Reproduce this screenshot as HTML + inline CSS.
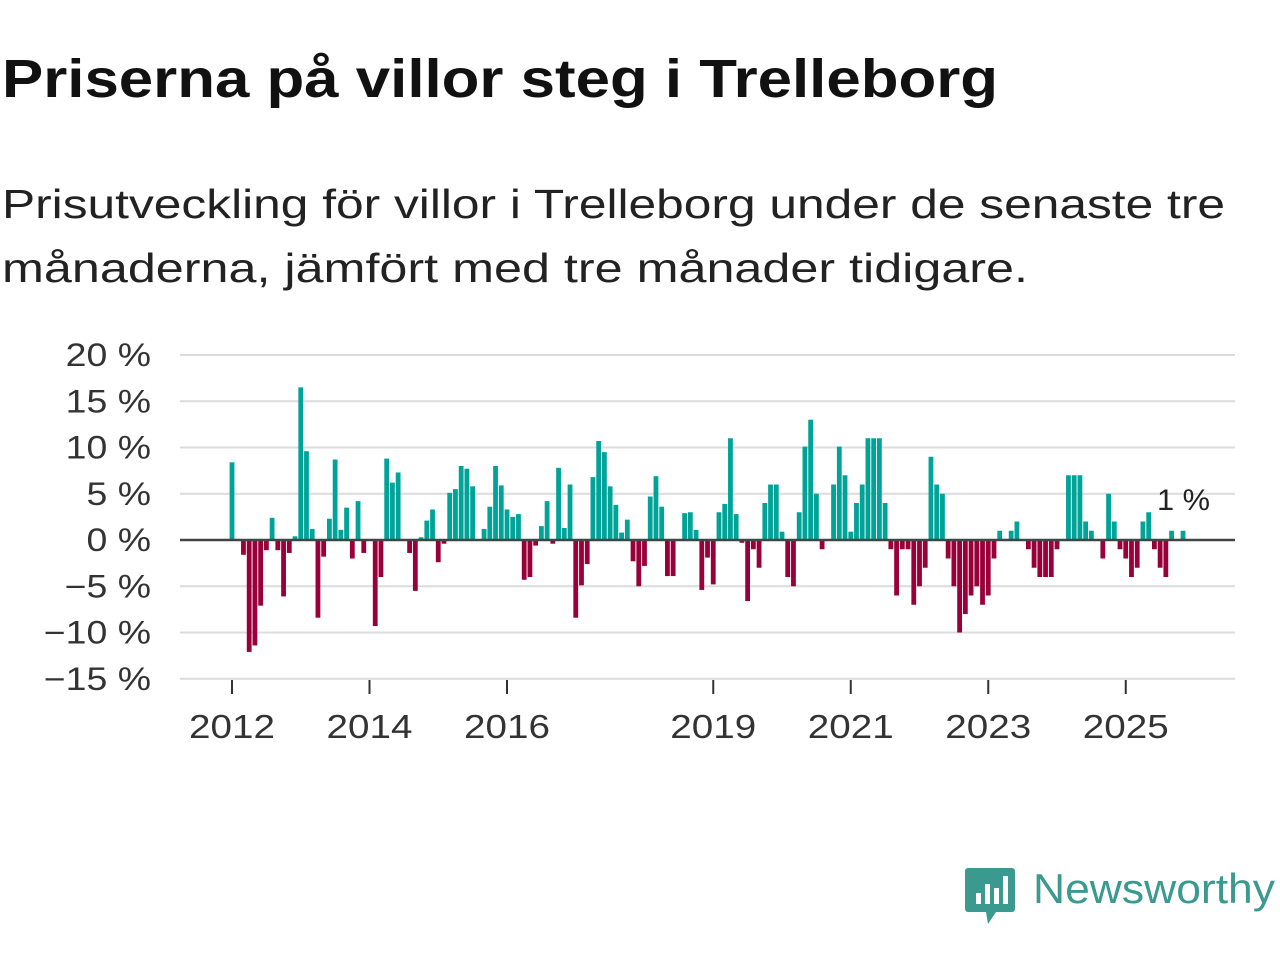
<!DOCTYPE html>
<html><head><meta charset="utf-8"><style>
html,body{margin:0;padding:0;background:#fff;}
svg{display:block;font-family:"Liberation Sans","DejaVu Sans",sans-serif;}
</style></head><body>
<svg id="chart" width="1280" height="960" viewBox="0 0 1280 960">
<text x="2" y="97" font-size="54" font-weight="bold" fill="#111" textLength="996" lengthAdjust="spacingAndGlyphs">Priserna på villor steg i Trelleborg</text>
<text x="2" y="218" font-size="41" fill="#222" textLength="1223" lengthAdjust="spacingAndGlyphs">Prisutveckling för villor i Trelleborg under de senaste tre</text>
<text x="2" y="282" font-size="41" fill="#222" textLength="1026" lengthAdjust="spacingAndGlyphs">månaderna, jämfört med tre månader tidigare.</text>
<g id="grid"></g>
<g id="yticks"></g>
<g id="xticks"></g>
<g id="bars"></g>
<line x1="180" x2="1235" y1="540" y2="540" stroke="#444" stroke-width="2.5"/>
<text x="1157" y="510" font-size="30" fill="#222" textLength="53" lengthAdjust="spacingAndGlyphs">1 %</text>
<g>
<path d="M968 868 h44 a3 3 0 0 1 3 3 v38 a3 3 0 0 1 -3 3 h-16 l-8 12 l-2 -12 h-18 a3 3 0 0 1 -3 -3 v-38 a3 3 0 0 1 3 -3z" fill="#3a9a8f"/>
<rect x="976" y="893" width="5" height="11" fill="#fff"/>
<rect x="985" y="884" width="5" height="20" fill="#fff"/>
<rect x="994" y="888" width="5" height="16" fill="#fff"/>
<rect x="1003" y="876" width="5" height="28" fill="#fff"/>
<text x="1033" y="903" font-size="42" fill="#3a9a8f" textLength="242" lengthAdjust="spacingAndGlyphs">Newsworthy</text>
</g>
</svg>
<script>
const yTicks = [20, 15, 10, 5, 0, -5, -10, -15];
const yTickLabels = ["20 %", "15 %", "10 %", "5 %", "0 %", "\u22125 %", "\u221210 %", "\u221215 %"];
const xTickYears = [2012, 2014, 2016, 2019, 2021, 2023, 2025];
const startYear = 2012;
const values = [
8.4,0,-1.6,-12.1,-11.4,-7.1,-1.1,2.4,-1.1,-6.1,-1.4,0.4,
16.5,9.6,1.2,-8.4,-1.8,2.3,8.7,1.1,3.5,-2.0,4.2,-1.4,
0,-9.3,-4.0,8.8,6.2,7.3,0,-1.4,-5.5,0.3,2.1,3.3,
-2.4,-0.4,5.1,5.5,8.0,7.7,5.8,0,1.2,3.6,8.0,5.9,
3.3,2.5,2.8,-4.3,-4.0,-0.6,1.5,4.2,-0.4,7.8,1.3,6.0,
-8.4,-4.9,-2.6,6.8,10.7,9.5,5.8,3.8,0.8,2.2,-2.3,-5.0,
-2.8,4.7,6.9,3.6,-3.9,-3.9,0,2.9,3.0,1.1,-5.4,-1.9,
-4.8,3.0,3.9,11.0,2.8,-0.3,-6.6,-1.0,-3.0,4.0,6.0,6.0,
0.9,-4.0,-5.0,3.0,10.1,13.0,5.0,-1.0,0,6.0,10.1,7.0,
0.9,4.0,6.0,11,11,11,4.0,-1,-6,-1,-1,-7,
-5,-3,9,6,5,-2,-5,-10,-8,-6,-5,-7,
-6,-2,1,0,1,2,0,-1,-3,-4,-4,-4,
-1,0,7,7,7,2,1,0,-2,5,2,-1,
-2,-4,-3,2,3,-1,-3,-4,1,0,1
];
const NS = "http://www.w3.org/2000/svg";
function yScale(v){ return 540 - v * 9.25; }
function xScale(monthIndex){ return 232 + monthIndex * (68.75/12); }
function widen(t, f){
  try { const w = t.getComputedTextLength(); t.setAttribute('textLength', (w * f).toFixed(1)); t.setAttribute('lengthAdjust', 'spacingAndGlyphs'); } catch(e) {}
}
const grid = document.getElementById('grid');
const yt = document.getElementById('yticks');
yTicks.forEach((t, i) => {
  const l = document.createElementNS(NS, 'line');
  l.setAttribute('x1', 180); l.setAttribute('x2', 1235);
  l.setAttribute('y1', yScale(t)); l.setAttribute('y2', yScale(t));
  l.setAttribute('stroke', '#dcdcdc'); l.setAttribute('stroke-width', 2);
  
  
  grid.appendChild(l);
  const tx = document.createElementNS(NS, 'text');
  tx.setAttribute('x', 151); tx.setAttribute('y', yScale(t) + 11);
  tx.setAttribute('text-anchor', 'end'); tx.setAttribute('font-size', 32); tx.setAttribute('fill', '#333');
  tx.textContent = yTickLabels[i];
  
  
  yt.appendChild(tx);
  widen(tx, 1.17);
});
const xt = document.getElementById('xticks');
xTickYears.forEach(yr => {
  const x = xScale((yr - startYear) * 12);
  const l = document.createElementNS(NS, 'line');
  l.setAttribute('x1', x); l.setAttribute('x2', x);
  l.setAttribute('y1', 680); l.setAttribute('y2', 694);
  l.setAttribute('stroke', '#333'); l.setAttribute('stroke-width', 2);
  
  
  xt.appendChild(l);
  const tx = document.createElementNS(NS, 'text');
  tx.setAttribute('x', x); tx.setAttribute('y', 738);
  tx.setAttribute('text-anchor', 'middle'); tx.setAttribute('font-size', 33); tx.setAttribute('fill', '#333');
  tx.textContent = yr;
  
  
  xt.appendChild(tx);
  widen(tx, 1.17);
});
const bars = document.getElementById('bars');
values.forEach((v, i) => {
  if (v === 0) return;
  const r = document.createElementNS(NS, 'rect');
  const x = xScale(i);
  r.setAttribute('x', x - 2.4); r.setAttribute('width', 4.8);
  r.setAttribute('y', Math.min(yScale(v), 540)); r.setAttribute('height', Math.abs(yScale(v) - 540));
  r.setAttribute('fill', v > 0 ? '#00a398' : '#99003a');
  
  
  bars.appendChild(r);
});
</script>
</body></html>
